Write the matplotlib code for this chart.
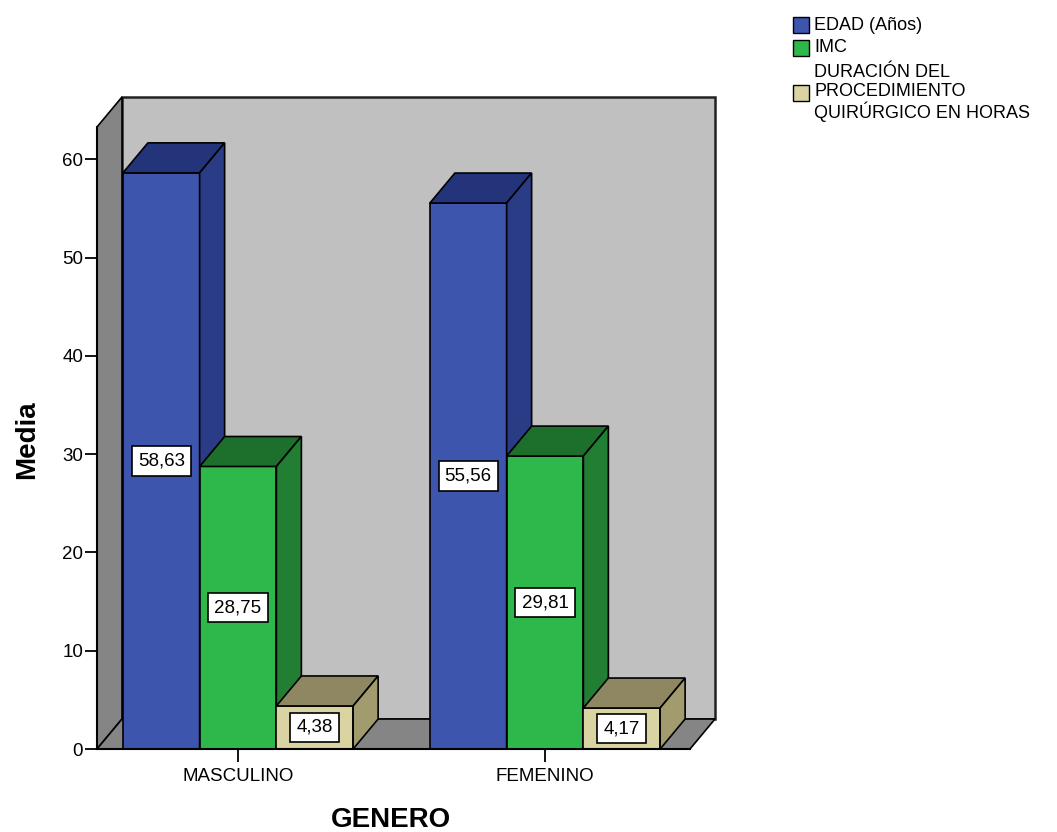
import matplotlib
matplotlib.use("Agg")
import matplotlib.pyplot as plt
from matplotlib.patches import Polygon, Rectangle

plt.rcParams['font.family'] = ['Liberation Sans', 'DejaVu Sans']

# ---- data ----
categories = ["MASCULINO", "FEMENINO"]
series_names = ["EDAD (Años)", "IMC",
                "DURACIÓN DEL\nPROCEDIMIENTO\nQUIRÚRGICO EN HORAS"]
edad = [58.63, 55.56]
imc = [28.75, 29.81]
duracion = [4.38, 4.17]
yticks = [0, 10, 20, 30, 40, 50, 60]

series_values = [edad, imc, duracion]
# (front, top, side) shades per series
series_colors = [
    ("#3E55AD", "#24347A", "#2B3C87"),
    ("#2EB84B", "#1D6F2C", "#217E33"),
    ("#D9D4A1", "#8E8762", "#A19B6D"),
]

W, H = 1057, 832
fig = plt.figure(figsize=(W / 100, H / 100), dpi=100)

# axes geometry (pixels)
px_left, px_right_back, px_bottom, px_top = 97, 715, 749, 97
ax = fig.add_axes([px_left / W, (H - px_bottom) / H,
                   (px_right_back - px_left) / W, (px_bottom - px_top) / H])

xscale = 307.0      # pixels per category step
yscale = 9.83       # pixels per value unit
X0 = -141 / xscale
X1 = (690 - 238) / xscale
DX = 25 / xscale    # depth offset
DY = 30 / yscale
YMAX = 63.3

ax.set_xlim(X0, X1 + DX)
ax.set_ylim(0, YMAX + DY)

wall_dark = "#858585"
wall_back = "#C0C0C0"
ek = dict(edgecolor="black", linewidth=1.2, joinstyle="miter", clip_on=False)

# back wall, left wall, floor
ax.add_patch(Rectangle((X0 + DX, DY), X1 - X0, YMAX, facecolor=wall_back,
                       edgecolor="#222222", linewidth=1.8, zorder=1,
                       clip_on=False))
ax.add_patch(Polygon([(X0, 0), (X0 + DX, DY), (X0 + DX, YMAX + DY), (X0, YMAX)],
                     facecolor=wall_dark, zorder=1, **ek))
ax.add_patch(Polygon([(X0, 0), (X1, 0), (X1 + DX, DY), (X0 + DX, DY)],
                     facecolor=wall_dark, zorder=1, **ek))

bw = 0.25
z = 2
for ci in range(len(categories)):
    for si, vals in enumerate(series_values):
        v = vals[ci]
        front, top, side = series_colors[si]
        xl = ci + (si - 1.5) * bw
        xr = xl + bw
        ax.add_patch(Polygon([(xl, 0), (xr, 0), (xr, v), (xl, v)],
                             facecolor=front, zorder=z, **ek))
        ax.add_patch(Polygon([(xl, v), (xr, v), (xr + DX, v + DY), (xl + DX, v + DY)],
                             facecolor=top, zorder=z, **ek))
        ax.add_patch(Polygon([(xr, 0), (xr + DX, DY), (xr + DX, v + DY), (xr, v)],
                             facecolor=side, zorder=z, **ek))
        z += 1
        ax.text((xl + xr) / 2, v / 2, f"{v:.2f}".replace(".", ","),
                ha="center", va="center", fontsize=13.5, zorder=50,
                bbox=dict(boxstyle="square,pad=0.33", facecolor="white",
                          edgecolor="black", linewidth=1.2))

# axes lines and ticks
for s in ("top", "right"):
    ax.spines[s].set_visible(False)
ax.spines["left"].set_bounds(0, YMAX)
ax.spines["bottom"].set_bounds(X0, X1)
for s in ("left", "bottom"):
    ax.spines[s].set_linewidth(1.5)
    ax.spines[s].set_zorder(60)
ax.set_facecolor("none")
ax.set_yticks(yticks)
ax.set_yticklabels([str(t) for t in yticks])
ax.set_xticks(range(len(categories)))
ax.set_xticklabels(categories)
ax.tick_params(axis="y", direction="out", length=9, width=1.3, pad=1,
               labelsize=13.5, colors="black")
ax.tick_params(axis="x", direction="out", length=9, width=1.3, pad=5,
               labelsize=13.5, colors="black")

fig.text(27 / W, 1 - 440 / H, "Media", rotation=90, ha="center", va="center",
         fontsize=20, fontweight="bold")
fig.text(391 / W, 1 - 820 / H, "GENERO", ha="center", va="center",
         fontsize=20, fontweight="bold")

# legend
legend_rows = [(25, series_names[0]), (48, series_names[1]), (93, series_names[2])]
sq = 16
for (yc, name), (front, _, _) in zip(legend_rows, series_colors):
    fig.patches.append(Rectangle((793 / W, 1 - (yc + sq / 2) / H), sq / W, sq / H,
                                 transform=fig.transFigure, facecolor=front,
                                 edgecolor="black", linewidth=1.0))
    fig.text(814 / W, 1 - yc / H, name, ha="left", va="center", fontsize=13,
             linespacing=1.1)

fig.savefig("out.png", dpi=100)
